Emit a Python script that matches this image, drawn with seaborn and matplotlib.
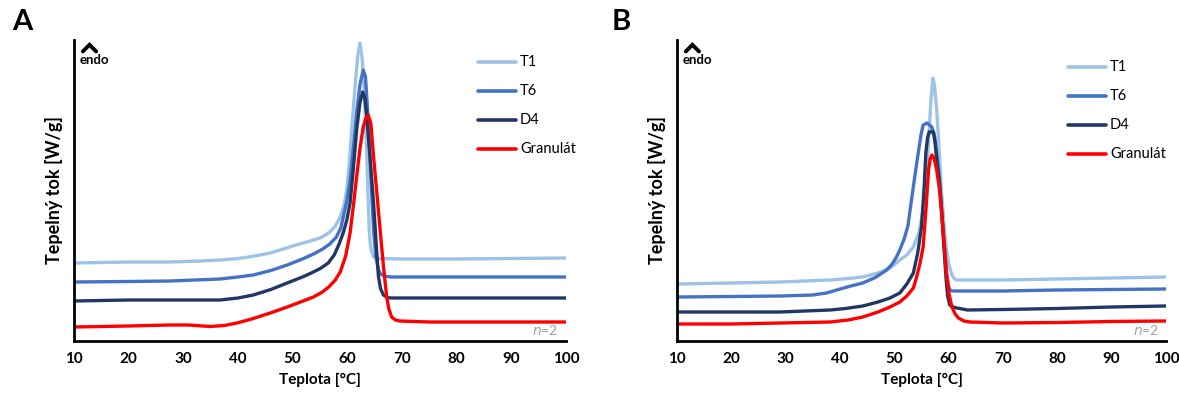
import numpy as np
import pandas as pd
import matplotlib
matplotlib.use("Agg")
import matplotlib.pyplot as plt
import seaborn as sns

sns.set_theme(style="white")
plt.rcParams['font.family'] = ['Lato', 'DejaVu Sans']
plt.rcParams['text.color'] = 'black'
plt.rcParams['axes.labelcolor'] = 'black'
plt.rcParams['xtick.color'] = 'black'

series_names = ["T1", "T6", "D4", "Granulát"]
colors = {"T1": "#9DC3E6", "T6": "#4472C4", "D4": "#203864", "Granulát": "#FF0000"}

# ---- Panel A ----
a_t1_T = [10, 20, 27.6, 33, 36.7, 40, 42, 44, 45.9, 48, 50, 51.9, 53.5, 55, 56, 56.8, 57.8, 58.7, 59.4, 59.9, 60.4, 60.8, 61.4, 61.9, 62.3, 62.7, 63.0, 63.5, 64.0, 64.2, 64.4, 64.8, 65.5, 70, 80, 90, 100]
a_t1_Y = [78, 79, 79, 80, 81, 82.5, 84, 86, 88, 91.5, 95, 98, 100.5, 103, 106, 109, 115, 124, 136, 151, 180, 211, 254, 285, 298, 283, 261, 194, 111, 97, 90, 84, 82.5, 82, 82, 82.5, 83]
a_t6_T = [10, 20, 27.6, 36.7, 40, 42.8, 46, 49, 52, 54, 55.5, 56.8, 58, 58.8, 59.3, 59.9, 60.5, 61.1, 61.7, 62.3, 62.9, 63.3, 63.8, 64.3, 64.8, 65.2, 65.5, 65.7, 66.1, 66.8, 68, 80, 90, 100]
a_t6_Y = [59, 59.5, 60, 62, 64, 66, 70.5, 76, 82.5, 87.5, 92, 97, 104, 113, 125, 140, 161, 193, 228, 256, 271, 265, 224, 165, 111, 85, 76, 71, 67, 65, 64, 64, 64, 64]
a_d4_T = [10, 20, 30, 36.7, 40, 42.8, 46, 49, 52, 53.8, 55.2, 56.5, 57.6, 58.5, 59.3, 59.9, 60.5, 61.1, 61.7, 62.3, 62.8, 63.2, 63.5, 64.2, 64.8, 65.3, 65.7, 66.1, 66.6, 67.3, 68, 80, 90, 100]
a_d4_Y = [40, 41, 41, 41, 43, 46, 51.5, 58, 64.5, 69, 73, 78, 86, 97, 109, 121, 138, 172, 211, 238, 249, 243, 228, 180, 138, 95, 64, 52, 46, 43.5, 43, 43, 43, 43]
a_gr_T = [10, 20, 27.6, 31, 34.9, 37.5, 39.8, 42.5, 45.9, 49, 51.9, 53.8, 55.3, 56.6, 57.8, 58.7, 59.7, 60.5, 61.1, 61.7, 62.3, 62.9, 63.4, 63.8, 64.3, 64.8, 65.4, 66.0, 66.6, 67.2, 67.6, 68.1, 68.8, 69.6, 75, 80, 90, 100]
a_gr_Y = [14, 15, 16, 16, 14.5, 15.5, 18, 22, 28, 34, 40, 44, 48.5, 54, 61, 69, 85, 108, 135, 164, 192, 214, 223, 226, 218, 184, 148, 111, 75, 44, 32, 24, 21, 20, 19, 19, 19, 19]

# ---- Panel B ----
b_t1_T = [10, 20, 29, 38.2, 41.5, 44.2, 47, 49.2, 51, 52.3, 53.5, 54.5, 55.3, 55.8, 56.3, 56.7, 57.1, 57.4, 57.8, 58.2, 58.7, 59.2, 59.6, 60.1, 60.6, 61.0, 61.5, 65, 70, 80, 90, 100]
b_t1_Y = [57, 58, 59, 61, 62.5, 64, 68, 73, 81, 86, 94, 108, 131, 160, 198, 238, 263, 255, 231, 195, 148, 112, 91, 75, 66, 62.5, 61, 61, 61, 62, 63, 64]
b_t6_T = [10, 20, 29, 35, 37.5, 39.4, 42, 44.2, 46.5, 48.6, 49.6, 50.4, 51, 51.8, 52.5, 52.9, 53.7, 54.4, 54.9, 55.3, 56.0, 56.9, 57.4, 57.8, 58.3, 58.7, 59.2, 59.6, 59.9, 60.2, 60.8, 61.5, 70, 80, 90, 100]
b_t6_Y = [44, 44.5, 45, 46, 48, 51, 55, 58, 63.5, 71, 77, 84, 91, 102, 115, 131, 162, 188, 206, 216, 218, 214, 205, 188, 163, 131, 95, 68, 57, 51, 50, 50, 50, 51, 51.5, 52]
b_d4_T = [10, 20, 29, 38.2, 41, 44.2, 47, 49.2, 51, 52.3, 53.5, 54.3, 55.0, 55.5, 55.8, 56.1, 56.4, 57.2, 57.5, 57.8, 58.3, 58.7, 59.1, 59.5, 59.8, 60.2, 60.8, 61.5, 63.5, 70, 80, 90, 100]
b_d4_Y = [29, 29, 29, 31, 32.5, 35, 39, 43, 48, 57, 68, 88, 114, 155, 188, 203, 209, 209, 198, 181, 158, 131, 96, 64, 45, 36, 34, 33, 31, 31.5, 32.5, 34, 35]
b_gr_T = [10, 20, 29, 38.2, 41.5, 44.2, 47, 49.2, 51, 52.3, 53.5, 54.1, 54.7, 55.3, 55.8, 56.3, 56.6, 56.9, 57.3, 57.8, 58.3, 58.7, 59.2, 59.6, 60.1, 60.6, 61.2, 61.8, 62.8, 63.9, 70, 80, 90, 100]
b_gr_Y = [17, 17, 18, 19, 21, 24, 29, 34, 39, 45, 53, 64, 77, 94, 130, 171, 182, 186, 183, 171, 152, 128, 95, 68, 46, 34, 27, 23, 20, 19, 18, 18.5, 19.5, 20]

x_ticks = [10, 20, 30, 40, 50, 60, 70, 80, 90, 100]


def make_df(parts):
    frames = []
    for name, T, Y in parts:
        frames.append(pd.DataFrame({"T": T, "Y": Y, "série": name}))
    return pd.concat(frames, ignore_index=True)


df_a = make_df([("T1", a_t1_T, a_t1_Y), ("T6", a_t6_T, a_t6_Y), ("D4", a_d4_T, a_d4_Y), ("Granulát", a_gr_T, a_gr_Y)])
df_b = make_df([("T1", b_t1_T, b_t1_Y), ("T6", b_t6_T, b_t6_Y), ("D4", b_d4_T, b_d4_Y), ("Granulát", b_gr_T, b_gr_Y)])

fig = plt.figure(figsize=(11.79, 3.93), dpi=100)
W, H = 1179, 393
axA = fig.add_axes([74 / W, 1 - 341 / H, (566 - 74) / W, (341 - 40) / H])
axB = fig.add_axes([677 / W, 1 - 341 / H, (1166 - 677) / W, (341 - 40) / H])

for ax, df, letter, lx, leg_x, leg_y0 in [
    (axA, df_a, "A", 12, 478, 62),
    (axB, df_b, "B", 612, 1068, 67),
]:
    for name in series_names:
        sub = df[df["série"] == name]
        sns.lineplot(data=sub, x="T", y="Y", ax=ax, color=colors[name], lw=2.4,
                     sort=False, estimator=None, legend=False,
                     solid_joinstyle="round", solid_capstyle="round")
    ax.set_xlim(10, 100)
    ax.set_ylim(0, 301)
    ax.set_xticks(x_ticks)
    ax.set_xticklabels([str(t) for t in x_ticks], fontweight="bold", fontsize=11)
    ax.set_yticks([])
    ax.set_xlabel("Teplota [°C]", fontweight="bold", fontsize=11, labelpad=5)
    ax.set_ylabel("Tepelný tok [W/g]", fontweight="bold", fontsize=13, labelpad=8)
    for s in ["top", "right"]:
        ax.spines[s].set_visible(False)
    for s in ["left", "bottom"]:
        ax.spines[s].set_color("black")
        ax.spines[s].set_linewidth(2)
    ax.tick_params(axis="x", direction="out", length=5, width=1.5, color="black", pad=3)
    ax.grid(False)
    # endo marker (chevron + label)
    ax.plot([0.018, 0.0315, 0.045], [0.962, 0.984, 0.962], transform=ax.transAxes,
            color="black", lw=2.8, clip_on=False, solid_joinstyle="miter")
    ax.text(0.012, 0.935, "endo", transform=ax.transAxes, fontsize=9.5, fontweight="bold",
            ha="left", va="center")
    ax.text(0.985, 0.035, r"$\it{n}$=2", transform=ax.transAxes, fontsize=10,
            color="#A0A0A0", ha="right", va="center")
    # legend drawn manually in figure pixel space
    for i, name in enumerate(series_names):
        yy = 1 - (leg_y0 + 29 * i) / H
        fig.add_artist(plt.Line2D([leg_x / W, (leg_x + 38) / W], [yy, yy],
                                  color=colors[name], lw=2.6, solid_capstyle="round"))
        fig.text((leg_x + 42) / W, yy, name, fontsize=10.5, ha="left", va="center")
    fig.text(lx / W, 1 - 22 / H, letter, fontsize=21, fontweight="bold", ha="left", va="center")

fig.savefig("out.png", dpi=100)
